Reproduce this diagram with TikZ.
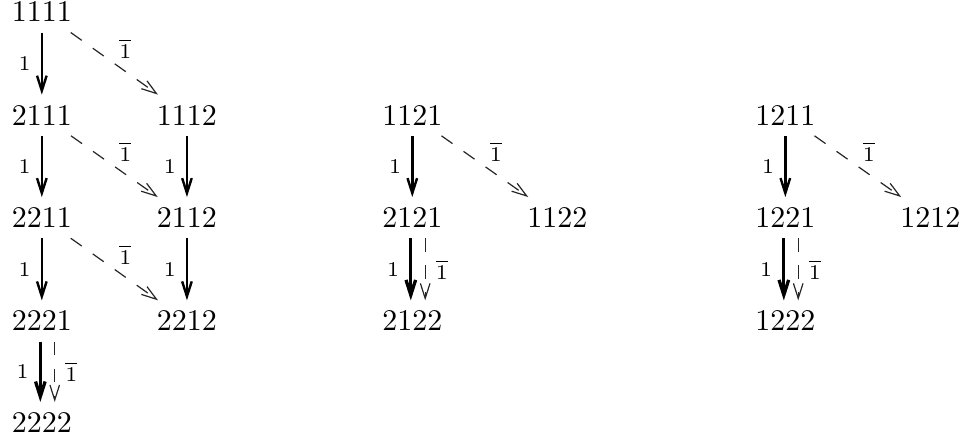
\documentclass[tikz,border=0pt]{standalone}
\usetikzlibrary{arrows.meta}
\begin{document}
\begin{tikzpicture}[
    lab/.style={font=\scriptsize,text=black},
    posarrow/.style={-{Straight Barb[length=5pt,width=3.2pt]},line width=0.8pt},
    negarrow/.style={-{Straight Barb[length=5pt,width=3.2pt,line width=0.4pt]},black!85,line width=0.4pt,dash pattern=on 4.5pt off 4.5pt}]
  \useasboundingbox (0,0) rectangle (11.34,5.18);
  % parole, una colonna alla volta
  \foreach \w/\X/\Y in {1111/0.49/5.04, 2111/0.49/3.83, 2211/0.49/2.63, 2221/0.49/1.42, 2222/0.49/0.23,
                        1112/2.19/3.83, 2112/2.19/2.63, 2212/2.19/1.42,
                        1121/4.83/3.83, 2121/4.83/2.63, 2122/4.83/1.42, 1122/6.53/2.63,
                        1211/9.20/3.83, 1221/9.20/2.63, 1222/9.20/1.42, 1212/10.90/2.63} {
    \node (w\w) at (\X,\Y) {\w};
  }

  % frecce piene (1)
  \foreach \a/\b in {1111/2111, 2111/2211, 2211/2221, 1112/2112, 2112/2212, 1121/2121, 1211/1221} {
    \draw[posarrow] (w\a) -- node[lab,left] {1} (w\b);
  }
  % frecce tratteggiate (1 bar)
  \foreach \a/\b in {1111/1112, 2111/2112, 2211/2212, 1121/1122, 1211/1212} {
    \draw[negarrow] (w\a) -- node[lab,above right,inner sep=1.5pt] {$\overline{1}$} (w\b);
  }

  % frecce doppie
  \foreach \a/\b in {2221/2222, 2121/2122, 1221/1222} {
    \draw[posarrow,line width=1.1pt] ([xshift=-0.5pt]w\a.south) -- node[lab,left] {1} ([xshift=-0.5pt]w\b.north);
    \draw[negarrow] ([xshift=4.3pt]w\a.south) -- node[lab,right] {$\overline{1}$} ([xshift=4.3pt]w\b.north);
  }
\end{tikzpicture}
\end{document}
